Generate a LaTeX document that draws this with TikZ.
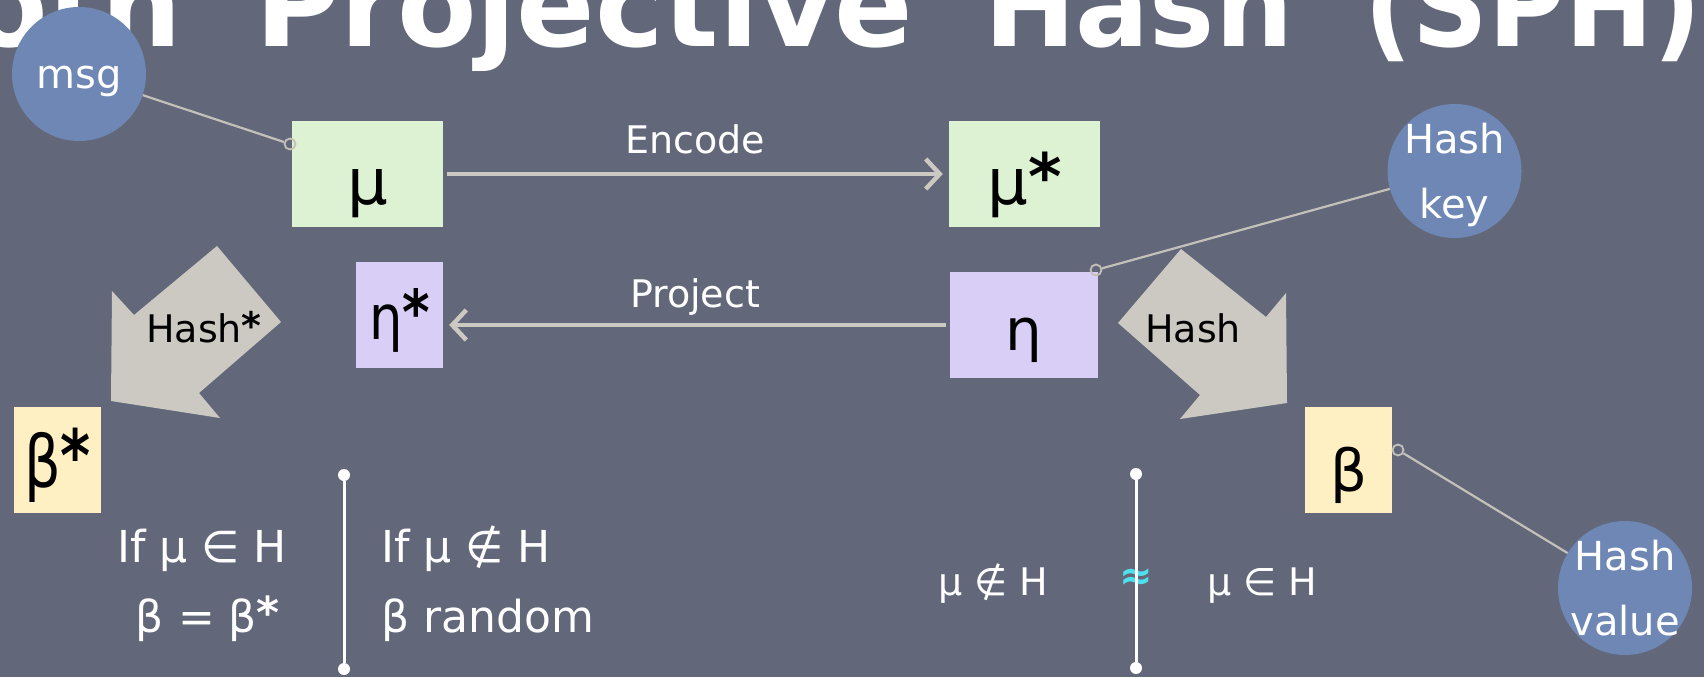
\documentclass[tikz,border=0pt]{standalone}
\usepackage{fontspec}
\setmainfont{DejaVu Sans}
\usepackage{graphicx}
\usetikzlibrary{arrows.meta,calc}
\definecolor{board}{RGB}{98,104,121}
\definecolor{boxgreen}{RGB}{220,242,210}
\definecolor{boxpurple}{RGB}{217,206,245}
\definecolor{boxyellow}{RGB}{255,240,195}
\definecolor{bubble}{RGB}{110,135,180}
\definecolor{chalk}{RGB}{204,201,194}
\definecolor{linkgray}{RGB}{196,192,186}
\definecolor{cyanmark}{RGB}{78,224,236}
\newcommand{\mystar}{\raisebox{0.07em}{\bfseries *}}
\begin{document}
\begin{tikzpicture}[x=1pt,y=-1pt,
  titletext/.style={text=white, inner sep=0pt, anchor=base west, font=\fontsize{116}{116}\selectfont\bfseries},
  box/.style={inner sep=0pt, minimum height=106pt, text=black, text depth=0pt},
  bubblenode/.style={circle, fill=bubble, minimum size=134pt, inner sep=0pt},
  bubbletext/.style={text=white, align=center, inner sep=0pt, font=\fontsize{40}{65}\selectfont},
  pinnode/.style={circle, draw=linkgray, line width=1.8pt, minimum size=11pt, inner sep=0pt},
  link/.style={draw=linkgray, line width=2.2pt},
  flow/.style={draw=chalk, line width=4.5pt, -{Straight Barb[length=14pt,width=30pt,line width=4.5pt]}},
  flowlabel/.style={text=white, inner sep=0pt, anchor=base, font=\fontsize{38}{38}\selectfont},
  blockarrow/.style={fill=chalk},
  arrowlabel/.style={text=black, inner sep=0pt, anchor=base, font=\fontsize{38}{38}\selectfont},
  bigtext/.style={text=white, inner sep=0pt, font=\fontsize{44}{44}\selectfont},
  smalltext/.style={text=white, inner sep=0pt, anchor=base, font=\fontsize{38}{38}\selectfont},
  enddot/.style={circle, fill=white, minimum size=12pt, inner sep=0pt},
  divider/.style={draw=white, line width=3pt}
]
\fill[board] (0,0) rectangle (1704,677);
\useasboundingbox (0,0) rectangle (1704,677);
\clip (0,0) rectangle (1704,677);

% title (cut at the top)
\node[titletext] (t0) at (-30,47) {\resizebox{212pt}{\height}{oth}};
\node[titletext] (t1) at (255,47) {\resizebox{658pt}{\height}{Projective}};
\node[titletext] (t2) at (984,47) {\resizebox{309pt}{\height}{Hash}};
\node[titletext] (t3) at (1364,47) {\resizebox{337pt}{\height}{(SPH)}};

% block arrows
\fill[blockarrow] (217,246) -- (281,322) -- (199,393) -- (220,418) -- (111,401) -- (112,291) -- (134,315) -- cycle;
\fill[blockarrow] (1181,249) -- (1266,317) -- (1286,293) -- (1287,403) -- (1180,419) -- (1200,395) -- (1118,323) -- cycle;
\node[arrowlabel] (hashstarlabel) at (204,342) {Hash\mystar};
\node[arrowlabel] (hashlabel) at (1193,342) {Hash};

% boxes
\node[box, fill=boxgreen, minimum width=151pt, text height=60pt, font=\fontsize{64}{64}\selectfont] (mu) at (367.5,174) {μ};
\node[box, fill=boxgreen, minimum width=151pt, text height=60pt, font=\fontsize{64}{64}\selectfont] (mustar) at (1024.5,174) {μ\mystar};
\node[box, fill=boxpurple, minimum width=87pt, text height=48pt, font=\fontsize{62}{62}\selectfont] (etastar) at (399.5,315) {\scalebox{0.85}[1]{η\mystar}};
\node[box, fill=boxpurple, minimum width=148pt, text height=50pt, font=\fontsize{58}{58}\selectfont] (eta) at (1024,325) {η};
\node[box, fill=boxyellow, minimum width=87pt, text height=54pt, font=\fontsize{72}{72}\selectfont] (betastar) at (57.5,460) {\scalebox{0.8}[1]{β\mystar}};
\node[box, fill=boxyellow, minimum width=87pt, text height=62pt, font=\fontsize{58}{58}\selectfont] (beta) at (1348.5,460) {β};

% flows
\draw[flow, shorten <=4pt, shorten >=6pt] (mu) -- (mustar);
\draw[flow, shorten <=4pt, shorten >=6pt] (eta.west) -- (etastar.east |- eta.west);
\node[flowlabel] (encode) at (695,153) {Encode};
\node[flowlabel] (project) at (695,307) {Project};

% bubbles
\node[bubblenode, label={[bubbletext, name=msgtext, yshift=-7pt]center:msg}] (msg) at (79,74) {};
\node[bubblenode, label={[bubbletext, name=hashkeytext, yshift=-4pt]center:{Hash\\key}}] (hashkey) at (1454.5,171) {};
\node[bubblenode, label={[bubbletext, name=hashvaluetext]center:{Hash\\value}}] (hashvalue) at (1625,588) {};

\node[pinnode] (mupin) at (290,144) {};
\node[pinnode] (etapin) at (1096,270) {};
\node[pinnode] (betapin) at (1398,450) {};
\draw[link] (msg) -- (mupin);
\draw[link] (hashkey) -- (etapin);
\draw[link] (hashvalue) -- (betapin);

% lower texts
\node[bigtext, anchor=base] (ifin) at (202,562) {If μ ∈ H};
\node[bigtext, anchor=base] (equal) at (208,632) {β = β\mystar};
\node[bigtext, anchor=base west] (ifnotin) at (381,562) {If μ ∉ H};
\node[bigtext, anchor=base west] (random) at (381,632) {β random};

\node[text=cyanmark, inner sep=0pt, font=\fontsize{40}{40}\selectfont\bfseries] (approx) at (1136,579) {≈};
\node[smalltext] (notin) at (993,595) {μ ∉ H};
\node[smalltext] (isin) at (1262,595) {μ ∈ H};

\node[enddot] (d1top) at (344,475) {};
\node[enddot] (d1bot) at (344,669) {};
\draw[divider] (d1top) -- (d1bot);
\node[enddot] (d2top) at (1136,474) {};
\node[enddot] (d2bot) at (1136,668) {};
\draw[divider] (d2top) -- (d2bot);
\end{tikzpicture}
\end{document}
